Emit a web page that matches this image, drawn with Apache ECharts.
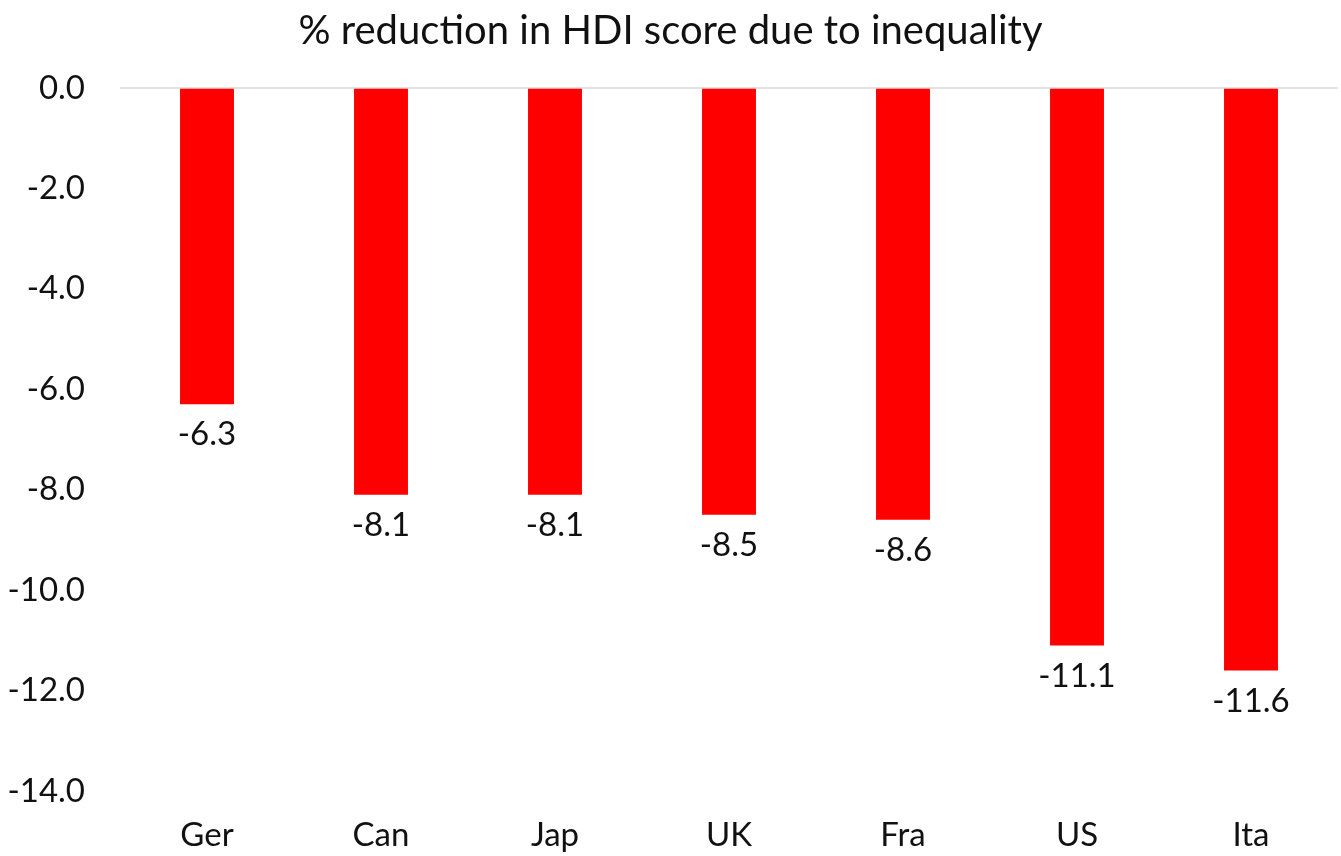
<!DOCTYPE html>
<html>
<head>
<meta charset="utf-8">
<script src="https://cdn.jsdelivr.net/npm/echarts@6/dist/echarts.min.js"></script>
<style>
  html, body { margin: 0; padding: 0; background: #fff; }
  #chart { width: 1341px; height: 856px; }
</style>
</head>
<body>
<div id="chart"></div>
<script>
const countries = ['Ger', 'Can', 'Jap', 'UK', 'Fra', 'US', 'Ita'];
const reduction = [-6.3, -8.1, -8.1, -8.5, -8.6, -11.1, -11.6];
const yTicks = { min: -14, max: 0, step: 2 };

const chart = echarts.init(document.getElementById('chart'));
const fontFam = 'Lato, "Open Sans", sans-serif';

chart.setOption({
    backgroundColor: '#fff',
    title: {
        text: '% reduction in HDI score due to inequality',
        left: 'center',
        top: 6,
        textStyle: { fontFamily: fontFam, fontSize: 40, fontWeight: 'normal', color: '#111' }
    },
    grid: { left: 120, right: 3, top: 88, bottom: 65 },
    xAxis: {
        type: 'category',
        data: countries,
        position: 'bottom',
        axisLine: { show: false, onZero: false },
        axisTick: { show: false },
        axisLabel: { fontFamily: fontFam, fontSize: 33, color: '#111', margin: 28 }
    },
    yAxis: {
        type: 'value',
        min: yTicks.min,
        max: yTicks.max,
        interval: yTicks.step,
        axisLine: { show: false },
        axisTick: { show: false },
        splitLine: { show: false },
        axisLabel: {
            fontFamily: fontFam, fontSize: 33, color: '#111', margin: 35,
            formatter: v => v.toFixed(1)
        }
    },
    series: [{
        type: 'bar',
        data: reduction,
        barWidth: '31%',
        itemStyle: { color: '#ff0000' },
        label: {
            show: true,
            position: 'bottom',
            distance: 14,
            fontFamily: fontFam,
            fontSize: 33,
            color: '#111',
            formatter: p => p.value.toFixed(1)
        },
        markLine: {
            silent: true,
            symbol: 'none',
            label: { show: false },
            lineStyle: { color: '#d9d9d9', width: 1.5, type: 'solid' },
            data: [{ yAxis: 0 }]
        }
    }]
});
</script>
</body>
</html>
